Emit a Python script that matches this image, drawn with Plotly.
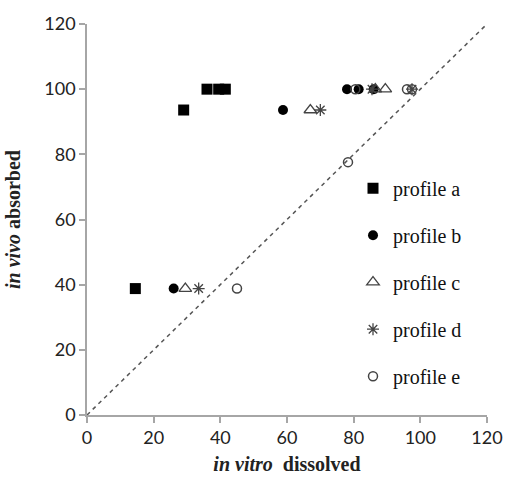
import plotly.graph_objects as go

# profile data (in vitro dissolved, in vivo absorbed)
a_x = [14.5, 29, 36, 39.5, 41.5]
a_y = [38.8, 93.6, 100, 100, 100]
b_x = [26, 58.8, 78, 81.5, 86]
b_y = [38.8, 93.6, 100, 100, 100]
c_x = [29.5, 67, 86.5, 89.5]
c_y = [38.8, 93.6, 100, 100]
d_x = [33.5, 70, 85.5, 97.5]
d_y = [38.8, 93.6, 100, 100]
e_x = [45, 78.3, 80.5, 96, 97.5]
e_y = [38.8, 77.6, 100, 100, 100]
line_xy = [0, 120]
ticks = [0, 20, 40, 60, 80, 100, 120]

fig = go.Figure()
fig.add_trace(go.Scatter(x=line_xy, y=line_xy, mode="lines", showlegend=False,
                         line=dict(color="#555555", width=1.5, dash="4px,4px"), hoverinfo="skip"))

series = [
    ("profile a", a_x, a_y, dict(symbol="square", size=11, color="black")),
    ("profile b", b_x, b_y, dict(symbol="circle", size=10, color="black")),
    ("profile c", c_x, c_y, dict(symbol="triangle-up-open", size=11, color="#444444", line=dict(width=1.3))),
    ("profile d", d_x, d_y, dict(symbol="asterisk-open", size=10, color="#444444", line=dict(width=1.3, color="#333333"))),
    ("profile e", e_x, e_y, dict(symbol="circle-open", size=9, color="#444444", line=dict(width=1.5))),
]
for i, (name, xs, ys, mk) in enumerate(series):
    fig.add_trace(go.Scatter(x=xs, y=ys, mode="markers", name=name, marker=mk,
                             legendgroup=f"g{i}"))

axis_common = dict(showgrid=False, zeroline=False, showline=True, linecolor="#a6a6a6",
                   linewidth=1.5, ticks="outside", tickcolor="#a6a6a6", ticklen=6,
                   tickwidth=1.5, tickvals=ticks, range=[0, 120], automargin=False,
                   tickfont=dict(family="Lato, Open Sans, sans-serif", size=18, color="#222222"))

fig.update_layout(
    width=507, height=477,
    margin=dict(l=87, r=20, t=24, b=62),
    plot_bgcolor="white", paper_bgcolor="white",
    xaxis=dict(**axis_common,
               title=dict(text="<b><i>in vitro</i>  dissolved</b>", standoff=10,
                          font=dict(family="Liberation Serif, serif", size=20, color="#222222"))),
    yaxis=dict(**axis_common,
               title=dict(text="<b><i>in vivo</i> absorbed</b>", standoff=18,
                          font=dict(family="Liberation Serif, serif", size=20, color="#222222"))),
    legend=dict(x=0.665, y=0.63, xanchor="left", yanchor="top", tracegroupgap=18,
                bgcolor="rgba(0,0,0,0)", itemwidth=30,
                font=dict(family="Liberation Serif, serif", size=20, color="#111111")),
)

fig.write_html("out.html")
